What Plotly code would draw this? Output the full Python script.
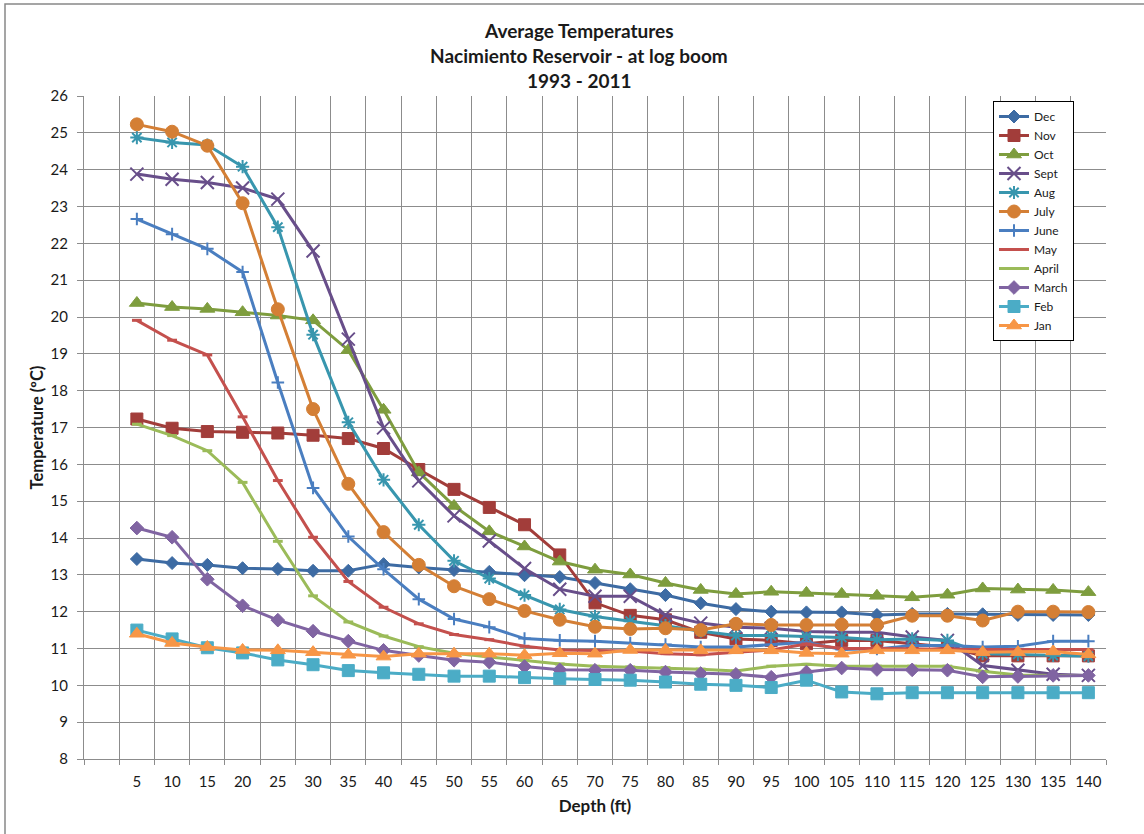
import plotly.graph_objects as go

depths = [5, 10, 15, 20, 25, 30, 35, 40, 45, 50, 55, 60, 65, 70, 75, 80, 85, 90, 95, 100,
          105, 110, 115, 120, 125, 130, 135, 140]

dec = [13.43, 13.32, 13.27, 13.18, 13.16, 13.11, 13.11, 13.29, 13.2, 13.13, 13.08, 12.99, 12.94, 12.78,
       12.61, 12.45, 12.23, 12.07, 12.0, 11.98, 11.98, 11.91, 11.94, 11.94, 11.93, 11.91, 11.91, 11.91]
nov = [17.23, 16.98, 16.89, 16.87, 16.85, 16.79, 16.7, 16.43, 15.86, 15.32, 14.83, 14.36, 13.54, 12.24,
       11.9, 11.78, 11.44, 11.26, 11.22, 11.13, 11.22, 11.22, 11.13, 11.04, 10.8, 10.8, 10.8, 10.8]
oct_ = [20.38, 20.27, 20.22, 20.13, 20.04, 19.91, 19.1, 17.48, 15.78, 14.87, 14.18, 13.77, 13.36, 13.14,
        13.01, 12.78, 12.59, 12.48, 12.54, 12.51, 12.48, 12.43, 12.39, 12.46, 12.63, 12.6, 12.59, 12.53]
sept = [23.88, 23.74, 23.65, 23.5, 23.2, 21.79, 19.4, 16.99, 15.55, 14.6, 13.92, 13.17, 12.61, 12.42,
        12.42, 11.91, 11.69, 11.58, 11.55, 11.46, 11.44, 11.44, 11.31, 11.22, 10.54, 10.41, 10.3, 10.27]
aug = [24.87, 24.74, 24.67, 24.08, 22.44, 19.52, 17.14, 15.58, 14.36, 13.38, 12.9, 12.45, 12.06, 11.87,
       11.74, 11.62, 11.47, 11.35, 11.35, 11.32, 11.3, 11.24, 11.26, 11.22, 10.86, 10.84, 10.81, 10.79]
july = [25.23, 25.03, 24.65, 23.09, 20.21, 17.5, 15.47, 14.16, 13.27, 12.69, 12.34, 12.02, 11.78, 11.59,
        11.53, 11.55, 11.5, 11.67, 11.64, 11.64, 11.65, 11.64, 11.89, 11.89, 11.76, 12.0, 12.0, 11.99]
june = [22.66, 22.25, 21.85, 21.22, 18.22, 15.36, 14.04, 13.15, 12.34, 11.8, 11.58, 11.27, 11.22, 11.2,
        11.15, 11.11, 11.04, 11.04, 11.1, 11.17, 10.97, 10.99, 11.08, 11.08, 11.04, 11.06, 11.2, 11.2]
may = [19.91, 19.37, 18.97, 17.29, 15.56, 14.02, 12.82, 12.12, 11.67, 11.38, 11.24, 11.06, 10.96, 10.95,
       10.93, 10.86, 10.83, 10.9, 10.96, 11.12, 11.0, 11.0, 10.98, 10.98, 10.97, 10.97, 10.97, 10.97]
april = [17.09, 16.78, 16.37, 15.51, 13.91, 12.43, 11.72, 11.34, 11.05, 10.87, 10.77, 10.68, 10.58, 10.52,
         10.5, 10.48, 10.44, 10.39, 10.52, 10.57, 10.52, 10.52, 10.52, 10.52, 10.38, 10.28, 10.27, 10.27]
march = [14.27, 14.02, 12.88, 12.16, 11.77, 11.47, 11.2, 10.95, 10.81, 10.68, 10.63, 10.51, 10.42, 10.41,
         10.41, 10.36, 10.32, 10.3, 10.22, 10.36, 10.47, 10.43, 10.42, 10.41, 10.23, 10.24, 10.27, 10.27]
feb = [11.5, 11.26, 11.02, 10.88, 10.69, 10.56, 10.4, 10.34, 10.3, 10.25, 10.25, 10.21, 10.18, 10.16,
       10.14, 10.09, 10.03, 10.0, 9.94, 10.14, 9.82, 9.77, 9.8, 9.8, 9.8, 9.8, 9.8, 9.8]
jan = [11.4, 11.15, 11.04, 10.96, 10.95, 10.9, 10.83, 10.78, 10.86, 10.86, 10.86, 10.82, 10.87, 10.86,
       10.96, 10.96, 10.95, 10.95, 10.95, 10.88, 10.86, 10.95, 10.95, 10.95, 10.9, 10.9, 10.92, 10.84]

series_names = ["Dec", "Nov", "Oct", "Sept", "Aug", "July", "June", "May", "April", "March", "Feb", "Jan"]
series_values = [dec, nov, oct_, sept, aug, july, june, may, april, march, feb, jan]

colors = ["#3D6BA3", "#A23D3A", "#7E9D3E", "#684E8A", "#3896AE", "#D47F35",
          "#4A7EC0", "#C4504D", "#9BBB59", "#8064A2", "#4BACC6", "#F79646"]
symbols = ["diamond", "square", "triangle-up", "x-thin-open", "asterisk-open", "circle",
           "cross-thin-open", "line-ew-open", "line-ew-open", "diamond", "square", "triangle-up"]
sizes = [10, 12, 13, 13, 11, 13, 9, 7, 7, 10.5, 12, 13]

FONT = "Lato, sans-serif"
grid = "#8c8c8c"
txt = "#1a1a1a"

fig = go.Figure()
for name, vals, c, s, sz in zip(series_names, series_values, colors, symbols, sizes):
    thin = s.endswith("-open")
    lw = 3 if s.startswith("line") else (2 if thin else 1)
    fig.add_trace(go.Scatter(
        x=depths, y=vals, name=name, mode="lines+markers",
        line=dict(color=c, width=3),
        marker=dict(symbol=s, size=sz, color=c, line=dict(color=c, width=lw)),
    ))

L, R, T, B = 84, 1106, 96, 759
W, H = 1144, 834
pw, ph = R - L, B - T

fig.update_layout(
    width=W, height=H,
    margin=dict(l=L, r=W - R, t=T, b=H - B, autoexpand=False),
    paper_bgcolor="white", plot_bgcolor="white",
    font=dict(family=FONT, size=15, color=txt),
    showlegend=True,
    legend=dict(x=(993 - L) / pw, y=(B - 101) / ph, xanchor="left", yanchor="top",
                bgcolor="white", bordercolor="#000", borderwidth=1,
                font=dict(family=FONT, size=12, color=txt),
                tracegroupgap=0, itemwidth=30),
    xaxis=dict(
        range=[-2.5, 142.5], tickmode="array", tickvals=depths,
        ticktext=[str(d) for d in depths],
        showgrid=False, zeroline=False, automargin=False,
        ticks="outside", ticklen=9, tickcolor="rgba(0,0,0,0)",
        showline=True, linecolor=grid, linewidth=1,
        tickfont=dict(family=FONT, size=15, color=txt),
        minor=dict(tick0=2.5, dtick=5, showgrid=True, gridcolor=grid, gridwidth=1,
                   ticks="outside", ticklen=5, tickcolor=grid),
        title=dict(text="<b>Depth (ft)</b>", font=dict(family=FONT, size=17, color=txt),
                   standoff=11),
    ),
    yaxis=dict(
        range=[8, 26], dtick=1, tick0=8,
        showgrid=True, gridcolor=grid, gridwidth=1, zeroline=False, automargin=False,
        ticks="outside", ticklen=6, tickcolor=grid,
        showline=True, linecolor=grid, linewidth=1,
        tickfont=dict(family=FONT, size=15, color=txt),
        ticklabelstandoff=6,
        title=dict(text="<b>Temperature (ºC)</b>", font=dict(family=FONT, size=16.5, color=txt),
                   standoff=2),
    ),
)

title_lines = ["Average Temperatures", "Nacimiento Reservoir - at log boom", "1993 - 2011"]
title_y = [31, 55, 80]
for line_text, yy in zip(title_lines, title_y):
    fig.add_annotation(text="<b>" + line_text + "</b>", xref="paper", yref="paper",
                       x=(579 - L) / pw, y=(B - yy) / ph, showarrow=False,
                       xanchor="center", yanchor="middle",
                       font=dict(family=FONT, size=19, color=txt))

fig.add_shape(type="rect", xref="paper", yref="paper",
              x0=(5 - L) / pw, x1=(W + 20 - L) / pw,
              y0=(B - (H + 20)) / ph, y1=(B - 4) / ph,
              line=dict(color="#888", width=1.5), fillcolor="rgba(0,0,0,0)", layer="below")

fig.write_html(
    "out.html",
    config={"displayModeBar": False},
    post_script="document.body.style.margin='0';document.body.style.padding='0';"
                "document.body.style.overflow='hidden';",
)
